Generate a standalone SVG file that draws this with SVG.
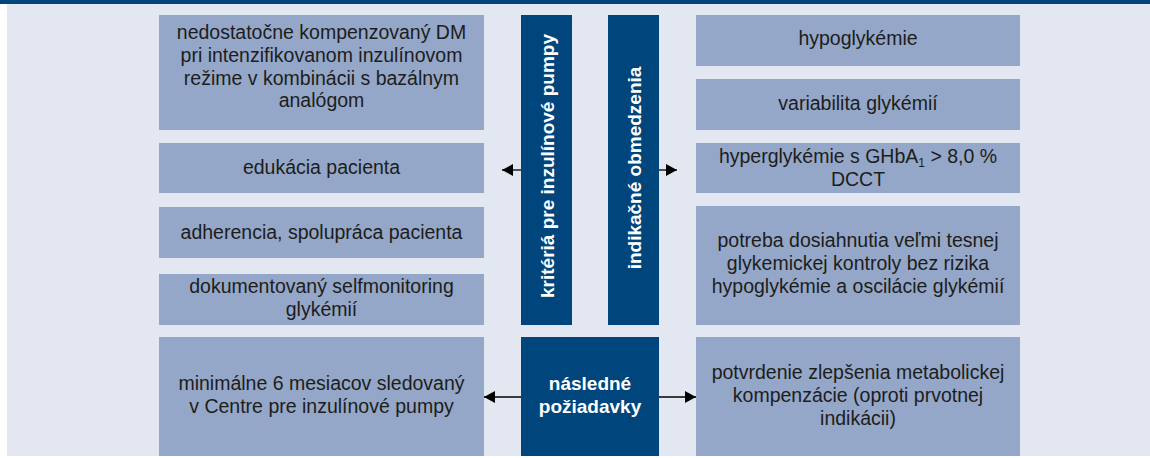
<svg xmlns="http://www.w3.org/2000/svg" width="1150" height="458" viewBox="0 0 1150 458">
<style>
.bg{fill:#e2e7f1}
.lb{fill:#94a7c8}
.db{fill:#00467c}
.t{font-family:"Liberation Sans",Arial,sans-serif;font-size:19.5px;fill:#1d1d1b;text-anchor:middle}
.w{font-family:"Liberation Sans",Arial,sans-serif;font-size:19px;font-weight:bold;fill:#ffffff;text-anchor:middle}
.c{stroke:#000;stroke-width:1.3;fill:none}
.h{fill:#000}
</style>
<defs>
<marker id="ah" markerWidth="12" markerHeight="12" refX="11" refY="6" orient="auto" markerUnits="userSpaceOnUse">
<path d="M0,0 L11,6 L0,12 Z" class="h"/>
</marker>
</defs>
<rect x="0" y="0" width="1150" height="4" class="db"/>
<rect x="7" y="4" width="1143" height="452" class="bg"/>

<g id="n-dm">
<rect x="159" y="15" width="325" height="115" class="lb"/>
<text class="t"><tspan x="321.5" y="39">nedostatočne kompenzovaný DM</tspan><tspan x="321.5" y="62">pri intenzifikovanom inzulínovom</tspan><tspan x="321.5" y="85">režime v kombinácii s bazálnym</tspan><tspan x="321.5" y="107">analógom</tspan></text>
</g>
<g id="n-edukacia">
<rect x="159" y="143" width="325" height="50" class="lb"/>
<text class="t" x="321.5" y="174">edukácia pacienta</text>
</g>
<g id="n-adherencia">
<rect x="159" y="207" width="325" height="51" class="lb"/>
<text class="t" x="321.5" y="238.5">adherencia, spolupráca pacienta</text>
</g>
<g id="n-selfmonitoring">
<rect x="159" y="274" width="325" height="51" class="lb"/>
<text class="t"><tspan x="321.5" y="293">dokumentovaný selfmonitoring</tspan><tspan x="321.5" y="316">glykémií</tspan></text>
</g>

<g id="n-kriteria">
<rect x="521" y="15" width="51" height="310" class="db"/>
<text class="w" transform="translate(554,166) rotate(-90)" x="0" y="0">kritériá pre inzulínové pumpy</text>
</g>
<g id="n-indikacne">
<rect x="608" y="15" width="51" height="310" class="db"/>
<text class="w" transform="translate(641,168) rotate(-90)" x="0" y="0">indikačné obmedzenia</text>
</g>

<g id="n-hypo">
<rect x="696" y="15" width="324" height="51" class="lb"/>
<text class="t" x="858" y="45">hypoglykémie</text>
</g>
<g id="n-variabilita">
<rect x="696" y="79" width="324" height="51" class="lb"/>
<text class="t" x="858" y="110">variabilita glykémií</text>
</g>
<g id="n-hyper">
<rect x="696" y="143" width="324" height="50" class="lb"/>
<text class="t"><tspan x="858" y="163">hyperglykémie s GHbA<tspan font-size="12" dy="4">1</tspan><tspan dy="-4"> &gt; 8,0 %</tspan></tspan><tspan x="858" y="186">DCCT</tspan></text>
</g>
<g id="n-potreba">
<rect x="696" y="206" width="324" height="119" class="lb"/>
<text class="t"><tspan x="858" y="247">potreba dosiahnutia veľmi tesnej</tspan><tspan x="858" y="270">glykemickej kontroly bez rizika</tspan><tspan x="858" y="293">hypoglykémie a oscilácie glykémií</tspan></text>
</g>

<g id="n-minimalne">
<rect x="159" y="337" width="325" height="119" class="lb"/>
<text class="t"><tspan x="321.5" y="390">minimálne 6 mesiacov sledovaný</tspan><tspan x="321.5" y="413">v Centre pre inzulínové pumpy</tspan></text>
</g>
<g id="n-nasledne">
<rect x="521" y="337" width="138" height="119" class="db"/>
<text class="w"><tspan x="590" y="390">následné</tspan><tspan x="590" y="413">požiadavky</tspan></text>
</g>
<g id="n-potvrdenie">
<rect x="696" y="337" width="324" height="119" class="lb"/>
<text class="t"><tspan x="858" y="379">potvrdenie zlepšenia metabolickej</tspan><tspan x="858" y="402">kompenzácie (oproti prvotnej</tspan><tspan x="858" y="425">indikácii)</tspan></text>
</g>

<g id="connectors">
<line x1="521" y1="170" x2="502" y2="170" class="c" marker-end="url(#ah)"/>
<line x1="659" y1="170" x2="677" y2="170" class="c" marker-end="url(#ah)"/>
<line x1="521" y1="397" x2="484" y2="397" class="c" marker-end="url(#ah)"/>
<line x1="659" y1="397" x2="696" y2="397" class="c" marker-end="url(#ah)"/>
</g>
</svg>
